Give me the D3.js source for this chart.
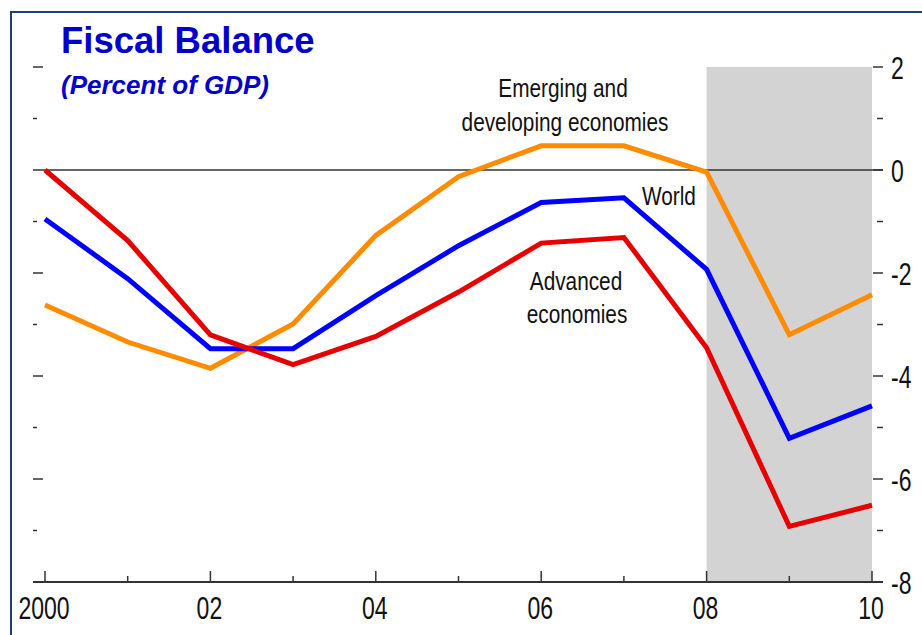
<!DOCTYPE html>
<meta charset="utf-8">

<!-- Load d3.js -->
<script src="https://d3js.org/d3.v7.min.js"></script>

<style>
  body { margin: 0; background: #fff; }
</style>

<!-- Div to hold the chart -->
<div id="fiscal_chart"></div>

<script>

// canvas size
const width = 922,
    height = 635;

// data (percent of GDP)
const years = [2000, 2001, 2002, 2003, 2004, 2005, 2006, 2007, 2008, 2009, 2010]
const advanced = [0, -1.37, -3.2, -3.78, -3.23, -2.37, -1.42, -1.31, -3.45, -6.92, -6.51]
const world = [-0.95, -2.11, -3.47, -3.47, -2.44, -1.47, -0.63, -0.54, -1.93, -5.21, -4.58]
const emerging = [-2.62, -3.34, -3.85, -2.99, -1.27, -0.13, 0.47, 0.47, -0.04, -3.2, -2.42]
const yTicks = [2, 1, 0, -1, -2, -3, -4, -5, -6, -7, -8]
const yLabels = ["2", "0", "-2", "-4", "-6", "-8"]
const xLabels = ["2000", "02", "04", "06", "08", "10"]
const shadeYears = [2008, 2010]

// no narrow font installed, so squeeze Liberation Sans sideways
const font = "'Liberation Sans', Arial, sans-serif"

const svg = d3.select("#fiscal_chart")
  .append("svg")
    .attr("width", width)
    .attr("height", height)

// scales
const x = d3.scaleLinear().domain([2000, 2010]).range([45, 872])
const y = d3.scaleLinear().domain([-8, 2]).range([582, 67])

// frame around the slide (right and bottom run off the page)
svg.append("rect")
  .attr("x", 11).attr("y", 12)
  .attr("width", 960).attr("height", 680)
  .attr("fill", "none")
  .attr("stroke", "#1f3f6e")
  .attr("stroke-width", 2)

// grey shaded forecast area
svg.append("rect")
  .attr("x", x(shadeYears[0]))
  .attr("y", y(2))
  .attr("width", x(shadeYears[1]) - x(shadeYears[0]))
  .attr("height", y(-8) - y(2))
  .attr("fill", "#d3d3d3")

// zero line
svg.append("line")
  .attr("x1", 33).attr("x2", 883)
  .attr("y1", y(0)).attr("y2", y(0))
  .attr("stroke", "#333")
  .attr("stroke-width", 1.5)

// left ticks (no labels)
svg.selectAll("leftTicks")
  .data(yTicks.filter(d => d > -8 && d != 0))
  .join("line")
    .attr("x1", 33)
    .attr("x2", d => d % 2 == 0 ? 43 : 37)
    .attr("y1", d => y(d)).attr("y2", d => y(d))
    .attr("stroke", "#333")
    .attr("stroke-width", 1.5)

// right ticks
svg.selectAll("rightTicks")
  .data(yTicks)
  .join("line")
    .attr("x1", d => d % 2 == 0 ? 873 : 877)
    .attr("x2", 883)
    .attr("y1", d => y(d)).attr("y2", d => y(d))
    .attr("stroke", "#333")
    .attr("stroke-width", 1.5)

// right tick labels
svg.selectAll("rightLabels")
  .data(yLabels)
  .join("text")
    .attr("transform", d => `translate(891, ${y(+d)}) scale(0.72, 1)`)
    .attr("dy", "0.36em")
    .text(d => d)
    .style("font-family", font)
    .style("font-size", "32px")
    .attr("fill", "#111")

// bottom axis line
svg.append("line")
  .attr("x1", 33).attr("x2", 883)
  .attr("y1", y(-8)).attr("y2", y(-8))
  .attr("stroke", "#333")
  .attr("stroke-width", 2)

// bottom ticks
svg.selectAll("xTicks")
  .data(years)
  .join("line")
    .attr("x1", d => x(d)).attr("x2", d => x(d))
    .attr("y1", y(-8))
    .attr("y2", d => d % 2 == 0 ? y(-8) - 11 : y(-8) - 6)
    .attr("stroke", "#333")
    .attr("stroke-width", 1.5)

// bottom tick labels
svg.selectAll("xLabels")
  .data(xLabels)
  .join("text")
    .attr("transform", (d, i) => `translate(${x(years[i * 2]) - 1}, 619) scale(0.72, 1)`)
    .attr("text-anchor", "middle")
    .text(d => d)
    .style("font-family", font)
    .style("font-size", "32px")
    .attr("fill", "#111")

// lines
const line = d3.line()
  .x((d, i) => x(years[i]))
  .y(d => y(d))

const series = [
  {values: emerging, colour: "#ff8c00"},
  {values: world, colour: "#0000ff"},
  {values: advanced, colour: "#e60000"}
]

svg.selectAll("seriesLines")
  .data(series)
  .join("path")
    .attr("d", d => line(d.values))
    .attr("fill", "none")
    .attr("stroke", d => d.colour)
    .attr("stroke-width", 5)
    .attr("stroke-linejoin", "miter")

// line annotations
const notes = [
  {text: "Emerging and", x: 563, y: 97, anchor: "middle"},
  {text: "developing economies", x: 565, y: 131, anchor: "middle"},
  {text: "World", x: 642, y: 205, anchor: "start"},
  {text: "Advanced", x: 576, y: 290, anchor: "middle"},
  {text: "economies", x: 577, y: 323, anchor: "middle"}
]

svg.selectAll("notes")
  .data(notes)
  .join("text")
    .attr("transform", d => `translate(${d.x}, ${d.y}) scale(0.8, 1)`)
    .attr("text-anchor", d => d.anchor)
    .text(d => d.text)
    .style("font-family", font)
    .style("font-size", "26px")
    .attr("fill", "#111")

// title and subtitle
svg.append("text").attr("x", 61).attr("y", 53).text("Fiscal Balance")
  .style("font-family", font)
  .style("font-size", "36.5px").style("font-weight", "bold")
  .attr("fill", "#0000cc")
svg.append("text").attr("x", 61).attr("y", 94).text("(Percent of GDP)")
  .style("font-family", font)
  .style("font-size", "26px").style("font-weight", "bold").style("font-style", "italic")
  .attr("fill", "#0000cc")
</script>
